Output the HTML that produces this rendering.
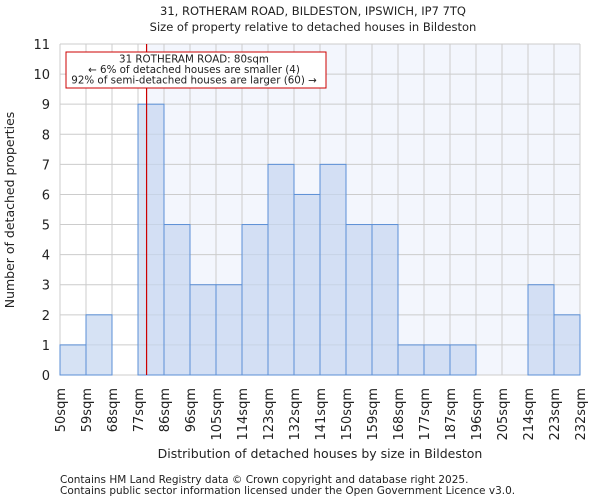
<!DOCTYPE html>
<html><head><meta charset="utf-8"><style>
body{margin:0;background:#fff;font-family:"DejaVu Sans","Liberation Sans",sans-serif;}
svg text{font-family:"DejaVu Sans","Liberation Sans",sans-serif;fill:#222;}
</style></head><body>
<svg id="chart" width="600" height="500" xmlns="http://www.w3.org/2000/svg">
<text x="313" y="15" text-anchor="middle" font-size="11.5">31, ROTHERAM ROAD, BILDESTON, IPSWICH, IP7 7TQ</text>
<text x="313" y="31" text-anchor="middle" font-size="11.5">Size of property relative to detached houses in Bildeston</text>
<g id="plot"></g>
<text x="320" y="458" text-anchor="middle" font-size="12.5">Distribution of detached houses by size in Bildeston</text>
<text transform="translate(14,210) rotate(-90)" text-anchor="middle" font-size="12.5">Number of detached properties</text>
<text x="60" y="483" font-size="10.5">Contains HM Land Registry data © Crown copyright and database right 2025.</text>
<text x="60" y="494" font-size="10.5">Contains public sector information licensed under the Open Government Licence v3.0.</text>
</svg>
<script>
const binLabels=["50sqm","59sqm","68sqm","77sqm","86sqm","96sqm","105sqm","114sqm","123sqm","132sqm","141sqm","150sqm","159sqm","168sqm","177sqm","187sqm","196sqm","205sqm","214sqm","223sqm","232sqm"];
const counts=[1,2,0,9,5,3,3,5,7,6,7,5,5,1,1,1,0,0,3,2];
const yTicks=[0,1,2,3,4,5,6,7,8,9,10,11];
const propertyBinPos=[3.33];
const NS="http://www.w3.org/2000/svg";
const g=document.getElementById('plot');
const L=60,R=580,T=44,B=375,yMax=11;
const bw=(R-L)/counts.length;
const xs=i=>L+i*bw;
const ys=v=>B-(v/yMax)*(B-T);
function mk(t,a){const e=document.createElementNS(NS,t);for(const k in a)e.setAttribute(k,a[k]);g.appendChild(e);return e;}
const px=xs(propertyBinPos[0]);
let e=mk('rect',{x:L,y:T,width:px-L,height:B-T,fill:'#ffffff'});


e=mk('rect',{x:px,y:T,width:R-px,height:B-T,fill:'#f3f6fd'});


yTicks.forEach(v=>{
 const l=mk('line',{x1:L,x2:R,y1:ys(v),y2:ys(v),stroke:'#cccccc','stroke-width':1});
 
 
 const t=mk('text',{x:L-10,y:ys(v)+5,'text-anchor':'end','font-size':13});
 t.textContent=v;
 
 
});
binLabels.forEach((lab,i)=>{
 const x=xs(i);
 const l=mk('line',{x1:x,x2:x,y1:T,y2:B,stroke:'#cccccc','stroke-width':1});
 
 
 const t=mk('text',{transform:`translate(${x+5},388) rotate(-90)`,'text-anchor':'end','font-size':13});
 t.textContent=lab;
 
 
});
counts.forEach((c,i)=>{
 if(c<=0)return;
 const r=mk('rect',{x:xs(i),y:ys(c),width:bw,height:B-ys(c),fill:'rgba(196,214,240,0.7)',stroke:'#5b8fd6','stroke-width':1});
 
 
});
e=mk('line',{x1:px,x2:px,y1:T,y2:B,stroke:'#cc0000','stroke-width':1.2});


e=mk('rect',{x:66,y:52,width:260,height:36,fill:'#fff',stroke:'#cc0000','stroke-width':1});


["31 ROTHERAM ROAD: 80sqm","← 6% of detached houses are smaller (4)","92% of semi-detached houses are larger (60) →"].forEach((s,i)=>{
 const t=mk('text',{x:194,y:62.5+i*10.5,'text-anchor':'middle','font-size':10.3});
 t.textContent=s;
 
 
});
</script>
</body></html>
